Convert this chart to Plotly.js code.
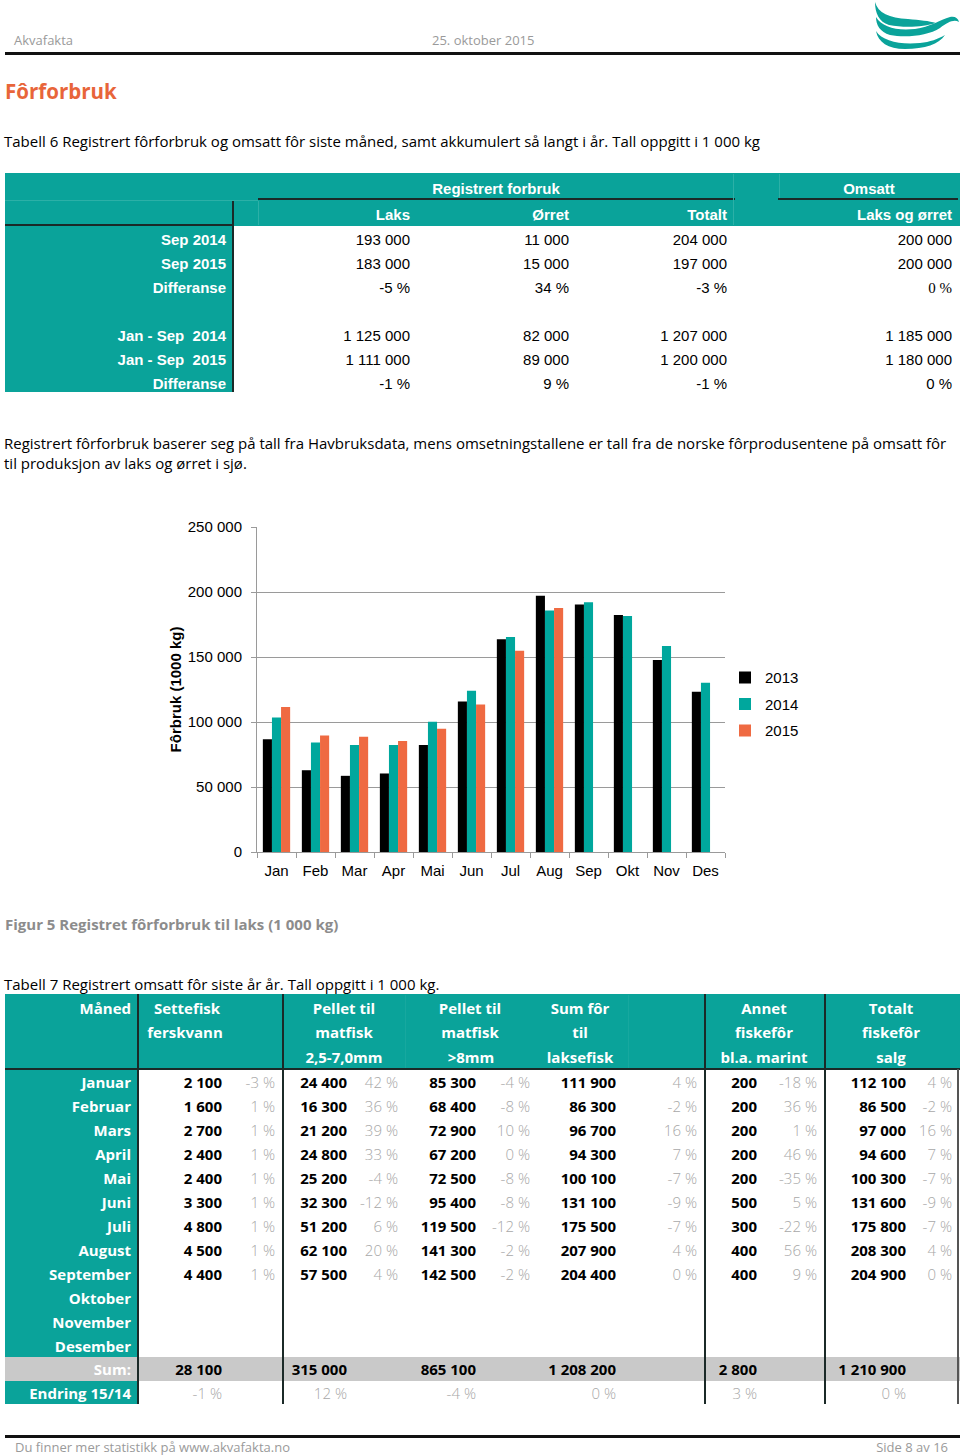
<!DOCTYPE html>
<html><head><meta charset="utf-8">
<script src="https://cdn.plot.ly/plotly-3.0.1.min.js"></script>
<style>
body{margin:0;width:960px;height:1456px;position:relative;background:#fff;font-family:"Open Sans",sans-serif;overflow:hidden;color:#000}
.t{position:absolute;white-space:pre}
.r{position:absolute}
#chart{position:absolute;left:160px;top:505px;width:680px;height:390px}
</style></head>
<body>
<svg style="position:absolute;left:860px;top:0px" width="100" height="52" viewBox="860 0 100 52">
  <path fill="#0aa39a" d="M875,2 C878,13 889,18 908,19 C920,20 929,21 936,23 C924,27 904,28 889,25 C879,22 875,13 875,2 Z"/>
  <path fill="#0aa39a" d="M876,17 C882,27 896,31 915,29 C930,27 940,20 950,17 C955,16 958,18 959,22 C954,19 948,22 940,28 C928,36 905,38 890,35 C880,32 876,25 876,17 Z"/>
  <path fill="#0aa39a" d="M876,31 C882,41 900,45 920,43 C930,42 938,39 945,35 C939,44 925,49 905,49 C888,49 878,42 876,31 Z"/>
</svg>
<div id="chart"></div>
<script>
// ---------- Chart data ----------
const months = ['Jan','Feb','Mar','Apr','Mai','Jun','Jul','Aug','Sep','Okt','Nov','Des'];
const y2013 = [86800,62900,58600,60400,82400,115800,163600,197200,190300,182300,147700,123300];
const y2014 = [103500,84200,82400,82400,100200,124000,165400,185700,192100,181600,158400,130200];
const y2015 = [111500,89600,88600,85300,94800,113500,154900,187700,null,null,null,null];
const yTickVals = [0,50000,100000,150000,200000,250000];
const yTickText = ['0','50 000','100 000','150 000','200 000','250 000'];

// ---------- Table 6 data ----------
const t6Labels = ['Sep 2014','Sep 2015','Differanse','','Jan - Sep  2014','Jan - Sep  2015','Differanse'];
const t6Laks   = ['193 000','183 000','-5 %','','1 125 000','1 111 000','-1 %'];
const t6Orret  = ['11 000','15 000','34 %','','82 000','89 000','9 %'];
const t6Totalt = ['204 000','197 000','-3 %','','1 207 000','1 200 000','-1 %'];
const t6Omsatt = ['200 000','200 000','0 %','','1 185 000','1 180 000','0 %'];

// ---------- Table 7 data ----------
const t7Months = ['Januar','Februar','Mars','April','Mai','Juni','Juli','August','September','Oktober','November','Desember'];
const settefisk    = [2100,1600,2700,2400,2400,3300,4800,4500,4400];
const settefiskPct = [-3,1,1,1,1,1,1,1,1];
const pellet25     = [24400,16300,21200,24800,25200,32300,51200,62100,57500];
const pellet25Pct  = [42,36,39,33,-4,-12,6,20,4];
const pellet8      = [85300,68400,72900,67200,72500,95400,119500,141300,142500];
const pellet8Pct   = [-4,-8,10,0,-8,-8,-12,-2,-2];
const sumFor       = [111900,86300,96700,94300,100100,131100,175500,207900,204400];
const sumForPct    = [4,-2,16,7,-7,-9,-7,4,0];
const annet        = [200,200,200,200,200,500,300,400,400];
const annetPct     = [-18,36,1,46,-35,5,-22,56,9];
const totalt       = [112100,86500,97000,94600,100300,131600,175800,208300,204900];
const totaltPct    = [4,-2,16,7,-7,-9,-7,4,0];
const t7Sums       = [28100,315000,865100,1208200,2800,1210900];
const t7Endring    = [-1,12,-4,0,3,0];

// ---------- helpers ----------
const TEAL = '#0aa39a';
function fmt(n){ return String(n).replace(/\B(?=(\d{3})+(?!\d))/g,' '); }
function T(x,y,s,o){
  o=o||{};
  const d=document.createElement('div'); d.className='t'; d.textContent=s;
  const fs=o.fs||15, lh=Math.round(fs*1.6), w=600, a=o.a||'l';
  d.style.fontSize=fs+'px'; d.style.lineHeight=lh+'px'; d.style.height=lh+'px';
  d.style.top=(y-lh/2)+'px';
  if(a==='l'){d.style.left=x+'px';}
  else if(a==='r'){d.style.left=(x-w)+'px';d.style.width=w+'px';d.style.textAlign='right';}
  else {d.style.left=(x-w/2)+'px';d.style.width=w+'px';d.style.textAlign='center';}
  if(o.b) d.style.fontWeight=(o.b===true?'bold':o.b);
  if(o.c) d.style.color=o.c;
  if(o.f) d.style.fontFamily=o.f;
  document.body.appendChild(d); return d;
}
function R(x,y,w,h,c){
  const d=document.createElement('div'); d.className='r';
  d.style.left=x+'px'; d.style.top=y+'px'; d.style.width=w+'px'; d.style.height=h+'px'; d.style.background=c;
  document.body.appendChild(d); return d;
}

// ---------- page header ----------
T(14,40,'Akvafakta',{fs:13,c:'#9a9a9a'});
T(432,40,'25. oktober 2015',{fs:13,c:'#9a9a9a'});
R(5,52,955,3,'#111');
T(5,91,'Fôrforbruk',{fs:20.5,b:true,c:'#e8653a'});
T(4,141,'Tabell 6 Registrert fôrforbruk og omsatt fôr siste måned, samt akkumulert så langt i år. Tall oppgitt i 1 000 kg',{fs:15});

// ---------- Table 6 ----------
const A='"Liberation Sans",Arial,sans-serif';
R(5,173,955,53,TEAL);
R(5,226,227,166,TEAL);
R(232,200,2,192,'#1b2a28');
R(5,224,229,2,'#1b2a28');
R(258,198,477,2,'#1b2a28');
R(778,198,180,2,'#1b2a28');
R(258,201,1,24,'#2cb0a7'); R(733,174,1,51,'#2cb0a7'); R(779,174,1,24,'#2cb0a7');
R(5,200,253,1,'#2cb0a7');
T(496,189,'Registrert forbruk',{fs:15,b:true,c:'#fff',f:A,a:'c'});
T(869,189,'Omsatt',{fs:15,b:true,c:'#fff',f:A,a:'c'});
T(410,215,'Laks',{fs:15,b:true,c:'#fff',f:A,a:'r'});
T(569,215,'Ørret',{fs:15,b:true,c:'#fff',f:A,a:'r'});
T(727,215,'Totalt',{fs:15,b:true,c:'#fff',f:A,a:'r'});
T(952,215,'Laks og ørret',{fs:15,b:true,c:'#fff',f:A,a:'r'});
t6Labels.forEach((lab,i)=>{
  const y=240+i*24;
  if(lab) T(226,y,lab,{fs:15,b:true,c:'#fff',f:A,a:'r'});
  if(t6Laks[i]) T(410,y,t6Laks[i],{fs:15,f:A,a:'r'});
  if(t6Orret[i]) T(569,y,t6Orret[i],{fs:15,f:A,a:'r'});
  if(t6Totalt[i]) T(727,y,t6Totalt[i],{fs:15,f:A,a:'r'});
  if(t6Omsatt[i]) T(952,y,t6Omsatt[i],{fs:15,f:(i===2?'"Liberation Serif",serif':A),a:'r'});
});

// ---------- paragraph ----------
T(4,443,'Registrert fôrforbruk baserer seg på tall fra Havbruksdata, mens omsetningstallene er tall fra de norske fôrprodusentene på omsatt fôr',{fs:15});
T(4,463,'til produksjon av laks og ørret i sjø.',{fs:15});

// ---------- caption + table 7 title ----------
T(5,924,'Figur 5 Registret fôrforbruk til laks (1 000 kg)',{fs:15,b:true,c:'#8c8c8c'});
T(4,984,'Tabell 7 Registrert omsatt fôr siste år år. Tall oppgitt i 1 000 kg.',{fs:15});

// ---------- Table 7 ----------
R(5,994,955,75,TEAL);
R(5,1069,132,288,TEAL);
R(5,1357,955,24,'#c9c9c9');
R(5,1381,132,23,TEAL);
R(5,1068,955,2,'#1b2a28');
[137,282,704,824].forEach(x=>R(x,994,2,410,'#1b2a28'));
R(957,1069,2,335,'#555');
R(405,995,1,73,'#17a89f'); R(628,995,1,73,'#17a89f');
const hdrW={b:true,c:'#fff',fs:15};
T(131,1008,'Måned',Object.assign({a:'r'},hdrW));
T(187,1008,'Settefisk',Object.assign({a:'c'},hdrW)); T(185,1032,'ferskvann',Object.assign({a:'c'},hdrW));
T(344,1008,'Pellet til',Object.assign({a:'c'},hdrW)); T(344,1032,'matfisk',Object.assign({a:'c'},hdrW)); T(344,1057,'2,5-7,0mm',Object.assign({a:'c'},hdrW));
T(470,1008,'Pellet til',Object.assign({a:'c'},hdrW)); T(470,1032,'matfisk',Object.assign({a:'c'},hdrW)); T(471,1057,'>8mm',Object.assign({a:'c'},hdrW));
T(580,1008,'Sum fôr',Object.assign({a:'c'},hdrW)); T(580,1032,'til',Object.assign({a:'c'},hdrW)); T(580,1057,'laksefisk',Object.assign({a:'c'},hdrW));
T(764,1008,'Annet',Object.assign({a:'c'},hdrW)); T(764,1032,'fiskefôr',Object.assign({a:'c'},hdrW)); T(764,1057,'bl.a. marint',Object.assign({a:'c'},hdrW));
T(891,1008,'Totalt',Object.assign({a:'c'},hdrW)); T(891,1032,'fiskefôr',Object.assign({a:'c'},hdrW)); T(891,1057,'salg',Object.assign({a:'c'},hdrW));

const valX=[222,347,476,616,757,906], pctX=[275,398,530,697,817,952];
const vals=[settefisk,pellet25,pellet8,sumFor,annet,totalt];
const pcts=[settefiskPct,pellet25Pct,pellet8Pct,sumForPct,annetPct,totaltPct];
const GR='#a8a8a8';
t7Months.forEach((m,i)=>{
  const y=1082+i*24;
  T(131,y,m,{a:'r',b:true,c:'#fff',fs:15});
  vals.forEach((arr,k)=>{
    if(arr[i]!==undefined){
      T(valX[k],y,fmt(arr[i]),{a:'r',b:true,fs:15});
      T(pctX[k],y,pcts[k][i]+' %',{a:'r',b:300,c:GR,fs:15});
    }
  });
});
T(131,1369,'Sum:',{a:'r',b:true,c:'#fff',fs:15});
t7Sums.forEach((v,k)=>T(valX[k],1369,fmt(v),{a:'r',b:true,fs:15}));
T(131,1393,'Endring 15/14',{a:'r',b:true,c:'#fff',fs:15});
t7Endring.forEach((v,k)=>T(valX[k],1393,v+' %',{a:'r',b:300,c:GR,fs:15}));

// ---------- footer ----------
R(5,1435,955,3,'#111');
T(15,1447,'Du finner mer statistikk på www.akvafakta.no',{fs:13,c:'#9a9a9a'});
T(948,1447,'Side 8 av 16',{fs:13,c:'#9a9a9a',a:'r'});

// ---------- Plotly chart ----------
const CF='"Liberation Sans", Arial, sans-serif';
const traces=[
  {type:'bar',name:'2013',legendgroup:'a',x:months,y:y2013,marker:{color:'#000000'}},
  {type:'bar',name:'2014',legendgroup:'b',x:months,y:y2014,marker:{color:'#00a79d'}},
  {type:'bar',name:'2015',legendgroup:'c',x:months,y:y2015,marker:{color:'#ef6a42'}}
];
const layout={
  width:680,height:390,
  margin:{l:97,r:115,t:22,b:43,pad:0},
  barmode:'group',bargap:0.3,bargroupgap:0,
  paper_bgcolor:'#fff',plot_bgcolor:'#fff',
  font:{family:CF,size:15,color:'#000'},
  showlegend:true,
  legend:{x:1.0,xanchor:'left',y:0.455,yanchor:'middle',font:{family:CF,size:15,color:'#000'},bgcolor:'rgba(0,0,0,0)',tracegroupgap:4},
  xaxis:{type:'category',showline:true,linecolor:'#9a9a9a',linewidth:1,ticks:'outside',tickson:'boundaries',ticklen:5,tickcolor:'#9a9a9a',showgrid:false,zeroline:false,fixedrange:true,ticklabelstandoff:5},
  yaxis:{range:[0,250000],tickvals:yTickVals,ticktext:yTickText,showgrid:true,gridcolor:'#9a9a9a',gridwidth:1,showline:true,linecolor:'#9a9a9a',linewidth:1,zeroline:false,ticks:'outside',ticklen:5,tickcolor:'#9a9a9a',ticklabelstandoff:6,fixedrange:true,
    title:{text:'Fôrbruk (1000 kg)',font:{family:CF,size:15,weight:'bold',color:'#000'},standoff:2}}
};
Plotly.newPlot('chart',traces,layout,{displayModeBar:false,staticPlot:true});
</script>
</body></html>
